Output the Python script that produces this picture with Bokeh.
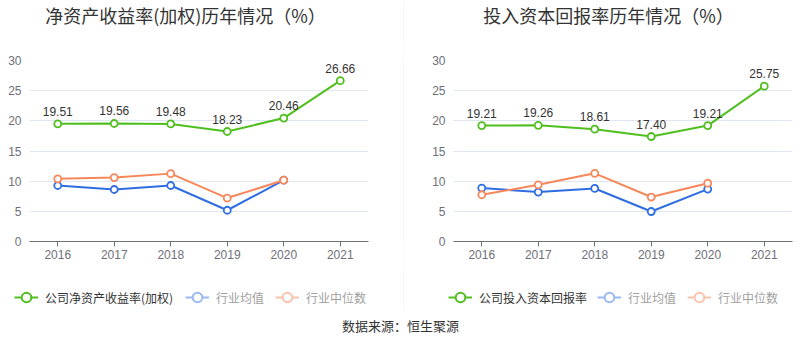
from bokeh.plotting import figure
from bokeh.models import (Range1d, FactorRange, FixedTicker, Legend, LegendItem,
                          Label, LabelSet, ColumnDataSource)
from bokeh.core.properties import value
from bokeh.layouts import row, column
from bokeh.embed import file_html
from bokeh.resources import INLINE

years = ["2016", "2017", "2018", "2019", "2020", "2021"]
ind_years = ["2016", "2017", "2018", "2019", "2020"]

roe_company = [19.51, 19.56, 19.48, 18.23, 20.46, 26.66]
roe_mean = [9.28, 8.62, 9.28, 5.18, 10.16]
roe_median = [10.38, 10.60, 11.25, 7.20, 10.16]

roic_company = [19.21, 19.26, 18.61, 17.40, 19.21, 25.75]
roic_mean = [8.85, 8.20, 8.79, 4.97, 8.69]
roic_median = [7.75, 9.39, 11.30, 7.37, 9.67]

titles = ["净资产收益率(加权)历年情况（%）", "投入资本回报率历年情况（%）"]
company_labels = ["公司净资产收益率(加权)", "公司投入资本回报率"]
mean_label = "行业均值"
median_label = "行业中位数"
source_text = "数据来源：恒生聚源"
y_ticks = [0, 5, 10, 15, 20, 25, 30]

GREEN = "#4fbf1f"
BLUE = "#2f6de3"
ORANGE = "#f7875a"
BLUE_L = "#9ab9f4"
ORANGE_L = "#fbc3ab"
NUM_FONT = "Liberation Sans"
CJK_FONT = "Noto Sans CJK SC"


def blank(width, height, bg=None):
    f = figure(width=width, height=height, output_backend="svg", toolbar_location=None,
               min_border=0, x_range=(0, width), y_range=(0, height))
    f.axis.visible = False
    f.grid.visible = False
    f.outline_line_color = None
    if bg:
        f.background_fill_color = bg
        f.border_fill_color = bg
    return f


def make_chart(company, mean, median, width, mb_left, mb_right):
    p = figure(width=width, height=230, x_range=FactorRange(*years),
               y_range=Range1d(0, 30), output_backend="svg", toolbar_location=None,
               min_border_left=mb_left, min_border_right=mb_right,
               min_border_top=20, min_border_bottom=29)
    p.outline_line_color = None
    p.xgrid.grid_line_color = None
    p.ygrid.grid_line_color = "#e0e6f1"
    p.ygrid.ticker = FixedTicker(ticks=y_ticks)
    p.yaxis.ticker = FixedTicker(ticks=y_ticks)
    p.yaxis.axis_line_color = None
    p.yaxis.major_tick_line_color = None
    p.yaxis.minor_tick_line_color = None
    p.yaxis.major_tick_out = 0
    p.yaxis.major_label_standoff = 8
    p.yaxis.major_label_text_font_size = "12px"
    p.yaxis.major_label_text_color = "#6e7079"
    p.yaxis.major_label_text_font = NUM_FONT
    p.xaxis.axis_line_color = "#6e7079"
    p.xaxis.major_tick_line_color = "#6e7079"
    p.xaxis.major_tick_out = 5
    p.xaxis.major_tick_in = 0
    p.xaxis.major_label_standoff = 3
    p.xaxis.major_label_text_font_size = "12px"
    p.xaxis.major_label_text_color = "#6e7079"
    p.xaxis.major_label_text_font = NUM_FONT

    p.line(ind_years, mean, line_color=BLUE, line_width=2)
    p.scatter(ind_years, mean, size=7, marker="circle", fill_color="white",
              line_color=BLUE, line_width=1.8)
    p.line(ind_years, median, line_color=ORANGE, line_width=2)
    p.scatter(ind_years, median, size=7, marker="circle", fill_color="white",
              line_color=ORANGE, line_width=1.8)
    p.line(years, company, line_color=GREEN, line_width=2)
    p.scatter(years, company, size=7, marker="circle", fill_color="white",
              line_color=GREEN, line_width=1.8)

    src = ColumnDataSource(dict(x=years, y=company, t=["%.2f" % v for v in company]))
    p.add_layout(LabelSet(x="x", y="y", text="t", source=src, text_align="center",
                          text_baseline="bottom", y_offset=8,
                          text_font_size=value("12px"),
                          text_color="#333333", text_font=value(NUM_FONT)))
    return p


def make_title(width, text, cx):
    t = blank(width, 40)
    t.add_layout(Label(x=cx, y=26, text=text, text_align="center",
                       text_baseline="middle", text_font_size="18px",
                       text_color="#333333", text_font=CJK_FONT))
    return t


def make_legend(width, comp_label, xa, xb):
    f = blank(width, 40)
    hx = [-50, -40]
    hy = [-50, -50]
    lc = f.line(hx, hy, line_color=GREEN, line_width=2)
    sc = f.scatter(hx, hy, size=7, marker="circle", fill_color="white",
                   line_color=GREEN, line_width=2)
    lm = f.line(hx, hy, line_color=BLUE_L, line_width=2)
    sm = f.scatter(hx, hy, size=7, marker="circle", fill_color="white",
                   line_color=BLUE_L, line_width=2)
    lmed = f.line(hx, hy, line_color=ORANGE_L, line_width=2)
    smed = f.scatter(hx, hy, size=7, marker="circle", fill_color="white",
                     line_color=ORANGE_L, line_width=2)
    common = dict(orientation="horizontal", border_line_color=None,
                  background_fill_alpha=0, padding=0, margin=0, spacing=11,
                  glyph_width=24, glyph_height=26, label_height=14, label_standoff=7,
                  label_text_font_size="12px", label_text_font=CJK_FONT,
                  label_text_baseline="middle")
    legA = Legend(items=[LegendItem(label=comp_label, renderers=[lc, sc])],
                  location=(xa, 0), label_text_color="#333333", **common)
    legB = Legend(items=[LegendItem(label=mean_label, renderers=[lm, sm]),
                         LegendItem(label=median_label, renderers=[lmed, smed])],
                  location=(xb, 0), label_text_color="#a0a0a0", **common)
    f.add_layout(legA)
    f.add_layout(legB)
    return f


# left column: page x 0..403 ; right column: page x 404..800
t1 = make_title(403, titles[0], 185)
t2 = make_title(396, titles[1], 204)
p1 = make_chart(roe_company, roe_mean, roe_median, 403, 29, 35)
p2 = make_chart(roic_company, roic_mean, roic_median, 396, 49, 8)
l1 = make_legend(403, company_labels[0], 14, 185)
l2 = make_legend(396, company_labels[1], 44, 193)

sepA = blank(1, 40, bg="#eeeeee")
sepB = blank(1, 230, bg="#eeeeee")
sepC = blank(1, 40, bg="#eeeeee")
src_fig = blank(800, 48)
src_fig.add_layout(Label(x=400, y=33, text=source_text, text_align="center",
                         text_baseline="middle", text_font_size="13px",
                         text_color="#333333", text_font=CJK_FONT))

layout = column(row(t1, sepA, t2), row(p1, sepB, p2), row(l1, sepC, l2), src_fig)
open("out.html", "w").write(file_html(layout, INLINE))
